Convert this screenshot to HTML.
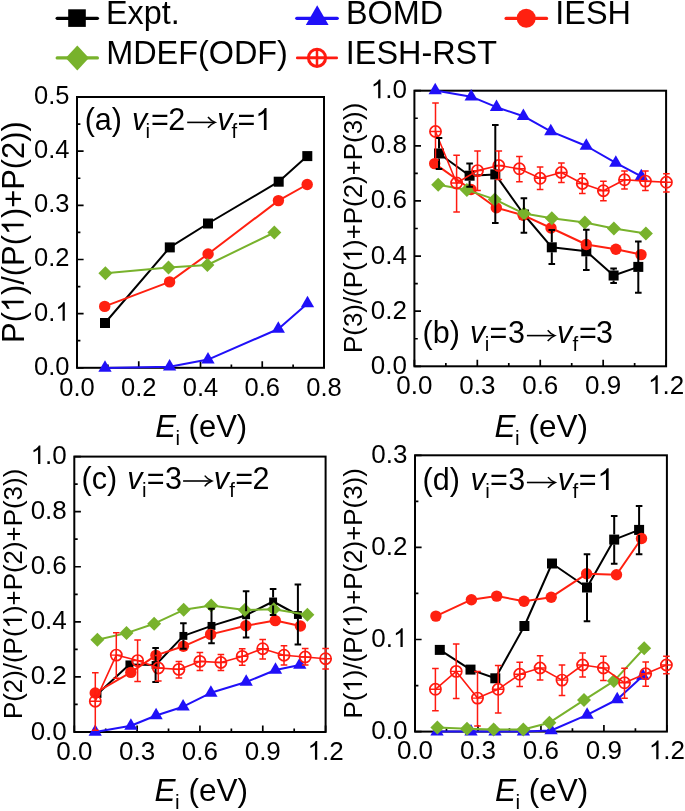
<!DOCTYPE html><html><head><meta charset="utf-8"><style>html,body{margin:0;padding:0;background:#fff;width:685px;height:811px;overflow:hidden}svg{display:block;will-change:transform}</style></head><body><svg width="685" height="811" viewBox="0 0 685 811"><rect width="685" height="811" fill="#fff"/><g font-family='"Liberation Sans", sans-serif' fill="#000"><path d="M77.00 367.80V361.20M107.88 367.80V364.40M138.75 367.80V361.20M169.62 367.80V364.40M200.50 367.80V361.20M231.38 367.80V364.40M262.25 367.80V361.20M293.12 367.80V364.40M324.00 367.80V361.20M77.00 367.80H83.60M77.00 340.72H80.40M77.00 313.64H83.60M77.00 286.56H80.40M77.00 259.48H83.60M77.00 232.40H80.40M77.00 205.32H83.60M77.00 178.24H80.40M77.00 151.16H83.60M77.00 124.08H80.40M77.00 97.00H83.60" stroke="#000" stroke-width="1.7" fill="none"/><rect x="77.00" y="97.00" width="247.00" height="270.80" fill="none" stroke="#000" stroke-width="2"/><text x="77.00" y="395.80" font-size="25.5" text-anchor="middle">0.0</text><text x="138.75" y="395.80" font-size="25.5" text-anchor="middle">0.2</text><text x="200.50" y="395.80" font-size="25.5" text-anchor="middle">0.4</text><text x="262.25" y="395.80" font-size="25.5" text-anchor="middle">0.6</text><text x="324.00" y="395.80" font-size="25.5" text-anchor="middle">0.8</text><text x="69.50" y="374.80" font-size="25.5" text-anchor="end">0.0</text><text x="34.05" y="320.64" font-size="25.5">0.</text><path d="M763 0L583 0L583 1147Q518 1085 412.5 1023Q307 961 223 930L223 1104Q374 1175 486.5 1276Q599 1377 645 1472L763 1472Z" transform="translate(55.32 320.64) scale(0.01245 -0.01245)"/><text x="69.50" y="266.48" font-size="25.5" text-anchor="end">0.2</text><text x="69.50" y="212.32" font-size="25.5" text-anchor="end">0.3</text><text x="69.50" y="158.16" font-size="25.5" text-anchor="end">0.4</text><text x="69.50" y="104.00" font-size="25.5" text-anchor="end">0.5</text><path d="M414.40 366.30V359.70M445.86 366.30V362.90M477.32 366.30V359.70M508.79 366.30V362.90M540.25 366.30V359.70M571.71 366.30V362.90M603.17 366.30V359.70M634.64 366.30V362.90M666.10 366.30V359.70M414.40 366.30H421.00M414.40 338.74H417.80M414.40 311.18H421.00M414.40 283.62H417.80M414.40 256.06H421.00M414.40 228.50H417.80M414.40 200.94H421.00M414.40 173.38H417.80M414.40 145.82H421.00M414.40 118.26H417.80M414.40 90.70H421.00" stroke="#000" stroke-width="1.7" fill="none"/><rect x="414.40" y="90.70" width="251.70" height="275.60" fill="none" stroke="#000" stroke-width="2"/><text x="414.40" y="394.00" font-size="26" text-anchor="middle">0.0</text><text x="477.32" y="394.00" font-size="26" text-anchor="middle">0.3</text><text x="540.25" y="394.00" font-size="26" text-anchor="middle">0.6</text><text x="603.17" y="394.00" font-size="26" text-anchor="middle">0.9</text><path d="M763 0L583 0L583 1147Q518 1085 412.5 1023Q307 961 223 930L223 1104Q374 1175 486.5 1276Q599 1377 645 1472L763 1472Z" transform="translate(648.03 394.00) scale(0.01270 -0.01270)"/><text x="662.49" y="394.00" font-size="26">.2</text><text x="406.90" y="373.80" font-size="26" text-anchor="end">0.0</text><text x="406.90" y="318.68" font-size="26" text-anchor="end">0.2</text><text x="406.90" y="263.56" font-size="26" text-anchor="end">0.4</text><text x="406.90" y="208.44" font-size="26" text-anchor="end">0.6</text><text x="406.90" y="153.32" font-size="26" text-anchor="end">0.8</text><path d="M763 0L583 0L583 1147Q518 1085 412.5 1023Q307 961 223 930L223 1104Q374 1175 486.5 1276Q599 1377 645 1472L763 1472Z" transform="translate(370.76 98.20) scale(0.01270 -0.01270)"/><text x="385.22" y="98.20" font-size="26">.0</text><path d="M74.30 732.00V725.40M105.71 732.00V728.60M137.12 732.00V725.40M168.54 732.00V728.60M199.95 732.00V725.40M231.36 732.00V728.60M262.78 732.00V725.40M294.19 732.00V728.60M325.60 732.00V725.40M74.30 732.00H80.90M74.30 704.46H77.70M74.30 676.92H80.90M74.30 649.38H77.70M74.30 621.84H80.90M74.30 594.30H77.70M74.30 566.76H80.90M74.30 539.22H77.70M74.30 511.68H80.90M74.30 484.14H77.70M74.30 456.60H80.90" stroke="#000" stroke-width="1.7" fill="none"/><rect x="74.30" y="456.60" width="251.30" height="275.40" fill="none" stroke="#000" stroke-width="2"/><text x="74.30" y="759.70" font-size="26" text-anchor="middle">0.0</text><text x="137.12" y="759.70" font-size="26" text-anchor="middle">0.3</text><text x="199.95" y="759.70" font-size="26" text-anchor="middle">0.6</text><text x="262.78" y="759.70" font-size="26" text-anchor="middle">0.9</text><path d="M763 0L583 0L583 1147Q518 1085 412.5 1023Q307 961 223 930L223 1104Q374 1175 486.5 1276Q599 1377 645 1472L763 1472Z" transform="translate(307.53 759.70) scale(0.01270 -0.01270)"/><text x="321.99" y="759.70" font-size="26">.2</text><text x="66.80" y="739.50" font-size="26" text-anchor="end">0.0</text><text x="66.80" y="684.42" font-size="26" text-anchor="end">0.2</text><text x="66.80" y="629.34" font-size="26" text-anchor="end">0.4</text><text x="66.80" y="574.26" font-size="26" text-anchor="end">0.6</text><text x="66.80" y="519.18" font-size="26" text-anchor="end">0.8</text><path d="M763 0L583 0L583 1147Q518 1085 412.5 1023Q307 961 223 930L223 1104Q374 1175 486.5 1276Q599 1377 645 1472L763 1472Z" transform="translate(30.66 464.10) scale(0.01270 -0.01270)"/><text x="45.12" y="464.10" font-size="26">.0</text><path d="M415.00 731.60V725.00M446.49 731.60V728.20M477.98 731.60V725.00M509.46 731.60V728.20M540.95 731.60V725.00M572.44 731.60V728.20M603.92 731.60V725.00M635.41 731.60V728.20M666.90 731.60V725.00M415.00 731.60H421.60M415.00 685.55H418.40M415.00 639.50H421.60M415.00 593.45H418.40M415.00 547.40H421.60M415.00 501.35H418.40M415.00 455.30H421.60" stroke="#000" stroke-width="1.7" fill="none"/><rect x="415.00" y="455.30" width="251.90" height="276.30" fill="none" stroke="#000" stroke-width="2"/><text x="415.00" y="759.30" font-size="26" text-anchor="middle">0.0</text><text x="477.98" y="759.30" font-size="26" text-anchor="middle">0.3</text><text x="540.95" y="759.30" font-size="26" text-anchor="middle">0.6</text><text x="603.92" y="759.30" font-size="26" text-anchor="middle">0.9</text><path d="M763 0L583 0L583 1147Q518 1085 412.5 1023Q307 961 223 930L223 1104Q374 1175 486.5 1276Q599 1377 645 1472L763 1472Z" transform="translate(648.83 759.30) scale(0.01270 -0.01270)"/><text x="663.29" y="759.30" font-size="26">.2</text><text x="407.50" y="739.10" font-size="26" text-anchor="end">0.0</text><text x="371.36" y="647.00" font-size="26">0.</text><path d="M763 0L583 0L583 1147Q518 1085 412.5 1023Q307 961 223 930L223 1104Q374 1175 486.5 1276Q599 1377 645 1472L763 1472Z" transform="translate(393.04 647.00) scale(0.01270 -0.01270)"/><text x="407.50" y="554.90" font-size="26" text-anchor="end">0.2</text><text x="407.50" y="462.80" font-size="26" text-anchor="end">0.3</text><g transform="translate(23.70 232.10) rotate(-90)"><text x="-110.81" y="0.00" font-size="30.8">P(</text><path d="M763 0L583 0L583 1147Q518 1085 412.5 1023Q307 961 223 930L223 1104Q374 1175 486.5 1276Q599 1377 645 1472L763 1472Z" transform="translate(-80.01 0.00) scale(0.01504 -0.01504)"/><text x="-62.88" y="0.00" font-size="30.8">)/(P(</text><path d="M763 0L583 0L583 1147Q518 1085 412.5 1023Q307 961 223 930L223 1104Q374 1175 486.5 1276Q599 1377 645 1472L763 1472Z" transform="translate(-3.01 0.00) scale(0.01504 -0.01504)"/><text x="14.12" y="0.00" font-size="30.8">)+P(2))</text></g><g transform="translate(362.00 227.80) rotate(-90)"><text x="-125.21" y="0.00" font-size="25.9">P(3)/(P(</text><path d="M763 0L583 0L583 1147Q518 1085 412.5 1023Q307 961 223 930L223 1104Q374 1175 486.5 1276Q599 1377 645 1472L763 1472Z" transform="translate(-34.56 0.00) scale(0.01265 -0.01265)"/><text x="-20.15" y="0.00" font-size="25.9">)+P(2)+P(3))</text></g><g transform="translate(22.00 593.90) rotate(-90)"><text x="-125.21" y="0.00" font-size="25.9">P(2)/(P(</text><path d="M763 0L583 0L583 1147Q518 1085 412.5 1023Q307 961 223 930L223 1104Q374 1175 486.5 1276Q599 1377 645 1472L763 1472Z" transform="translate(-34.56 0.00) scale(0.01265 -0.01265)"/><text x="-20.15" y="0.00" font-size="25.9">)+P(2)+P(3))</text></g><g transform="translate(362.00 593.30) rotate(-90)"><text x="-125.21" y="0.00" font-size="25.9">P(</text><path d="M763 0L583 0L583 1147Q518 1085 412.5 1023Q307 961 223 930L223 1104Q374 1175 486.5 1276Q599 1377 645 1472L763 1472Z" transform="translate(-99.31 0.00) scale(0.01265 -0.01265)"/><text x="-84.90" y="0.00" font-size="25.9">)/(P(</text><path d="M763 0L583 0L583 1147Q518 1085 412.5 1023Q307 961 223 930L223 1104Q374 1175 486.5 1276Q599 1377 645 1472L763 1472Z" transform="translate(-34.56 0.00) scale(0.01265 -0.01265)"/><text x="-20.15" y="0.00" font-size="25.9">)+P(2)+P(3))</text></g><text x="155.25" y="437.00" font-size="31.0" text-anchor="start" font-style="italic">E</text><text x="175.42" y="445.30" font-size="20.46" text-anchor="start">i</text><text x="179.97" y="437.00" font-size="31.0" text-anchor="start"> (eV)</text><text x="494.53" y="436.60" font-size="31.5" text-anchor="start" font-style="italic">E</text><text x="515.04" y="444.90" font-size="20.790000000000003" text-anchor="start">i</text><text x="519.66" y="436.60" font-size="31.5" text-anchor="start"> (eV)</text><text x="154.53" y="801.10" font-size="31.5" text-anchor="start" font-style="italic">E</text><text x="175.04" y="809.40" font-size="20.790000000000003" text-anchor="start">i</text><text x="179.66" y="801.10" font-size="31.5" text-anchor="start"> (eV)</text><text x="494.93" y="801.00" font-size="31.5" text-anchor="start" font-style="italic">E</text><text x="515.44" y="809.30" font-size="20.790000000000003" text-anchor="start">i</text><text x="520.06" y="801.00" font-size="31.5" text-anchor="start"> (eV)</text><text x="84.71" y="130.00" font-size="30.5" text-anchor="start">(a)</text><text x="131.93" y="130.00" font-size="30.5" text-anchor="start" font-style="italic">v</text><text x="145.53" y="138.20" font-size="20.5" text-anchor="start">i</text><text x="151.01" y="130.00" font-size="30.5" text-anchor="start">=</text><text x="168.37" y="130.00" font-size="30.5" text-anchor="start">2</text><path d="M187.20 122.40H214.20" stroke="#000" stroke-width="1.6" fill="none"/><path d="M208.00 117.00Q210.70 120.60 215.20 122.40Q210.70 124.20 208.00 127.80" stroke="#000" stroke-width="1.5" fill="none" stroke-linejoin="miter"/><text x="217.13" y="130.00" font-size="30.5" text-anchor="start" font-style="italic">v</text><text x="231.61" y="138.20" font-size="20.5" text-anchor="start">f</text><text x="237.61" y="130.00" font-size="30.5" text-anchor="start">=</text><path d="M763 0L583 0L583 1147Q518 1085 412.5 1023Q307 961 223 930L223 1104Q374 1175 486.5 1276Q599 1377 645 1472L763 1472Z" transform="translate(255.18 130.00) scale(0.01489 -0.01489)"/><text x="422.61" y="343.20" font-size="30.5" text-anchor="start">(b)</text><text x="469.93" y="343.20" font-size="30.5" text-anchor="start" font-style="italic">v</text><text x="484.73" y="351.40" font-size="20.5" text-anchor="start">i</text><text x="489.61" y="343.20" font-size="30.5" text-anchor="start">=</text><text x="507.94" y="343.20" font-size="30.5" text-anchor="start">3</text><path d="M526.90 335.60H553.90" stroke="#000" stroke-width="1.6" fill="none"/><path d="M547.70 330.20Q550.40 333.80 554.90 335.60Q550.40 337.40 547.70 341.00" stroke="#000" stroke-width="1.5" fill="none" stroke-linejoin="miter"/><text x="557.03" y="343.20" font-size="30.5" text-anchor="start" font-style="italic">v</text><text x="572.41" y="351.40" font-size="20.5" text-anchor="start">f</text><text x="579.11" y="343.20" font-size="30.5" text-anchor="start">=</text><text x="596.04" y="343.20" font-size="30.5" text-anchor="start">3</text><text x="81.61" y="488.60" font-size="30.5" text-anchor="start">(c)</text><text x="127.13" y="488.60" font-size="30.5" text-anchor="start" font-style="italic">v</text><text x="142.03" y="496.80" font-size="20.5" text-anchor="start">i</text><text x="146.81" y="488.60" font-size="30.5" text-anchor="start">=</text><text x="164.94" y="488.60" font-size="30.5" text-anchor="start">3</text><path d="M183.10 481.00H210.90" stroke="#000" stroke-width="1.6" fill="none"/><path d="M204.70 475.60Q207.40 479.20 211.90 481.00Q207.40 482.80 204.70 486.40" stroke="#000" stroke-width="1.5" fill="none" stroke-linejoin="miter"/><text x="213.73" y="488.60" font-size="30.5" text-anchor="start" font-style="italic">v</text><text x="229.21" y="496.80" font-size="20.5" text-anchor="start">f</text><text x="235.31" y="488.60" font-size="30.5" text-anchor="start">=</text><text x="252.47" y="488.60" font-size="30.5" text-anchor="start">2</text><text x="422.61" y="490.10" font-size="30.5" text-anchor="start">(d)</text><text x="470.53" y="490.10" font-size="30.5" text-anchor="start" font-style="italic">v</text><text x="485.23" y="498.30" font-size="20.5" text-anchor="start">i</text><text x="490.11" y="490.10" font-size="30.5" text-anchor="start">=</text><text x="508.24" y="490.10" font-size="30.5" text-anchor="start">3</text><path d="M526.90 482.50H554.20" stroke="#000" stroke-width="1.6" fill="none"/><path d="M548.00 477.10Q550.70 480.70 555.20 482.50Q550.70 484.30 548.00 487.90" stroke="#000" stroke-width="1.5" fill="none" stroke-linejoin="miter"/><text x="557.63" y="490.10" font-size="30.5" text-anchor="start" font-style="italic">v</text><text x="572.41" y="498.30" font-size="20.5" text-anchor="start">f</text><text x="578.81" y="490.10" font-size="30.5" text-anchor="start">=</text><path d="M763 0L583 0L583 1147Q518 1085 412.5 1023Q307 961 223 930L223 1104Q374 1175 486.5 1276Q599 1377 645 1472L763 1472Z" transform="translate(597.28 490.10) scale(0.01489 -0.01489)"/><path d="M57.2 18.3H97.4" stroke="#000000" stroke-width="3.3" stroke-linecap="round"/><rect x="68.20" y="9.30" width="17.60" height="17.60" fill="#000000"/><text x="106.00" y="24.40" font-size="32.4" text-anchor="start">Expt.</text><path d="M296.8 18.3H337.2" stroke="#2010f8" stroke-width="3.3" stroke-linecap="round"/><path d="M317.20 5.13L328.60 25.03L305.80 25.03Z" fill="#2010f8"/><text x="346.00" y="24.40" font-size="32.4" text-anchor="start">BOMD</text><path d="M506.1 18.4H546.5" stroke="#ff2010" stroke-width="3.3" stroke-linecap="round"/><circle cx="526.20" cy="18.20" r="9.50" fill="#ff2010"/><text x="555.30" y="24.40" font-size="32.4" text-anchor="start">IESH</text><path d="M57.2 57.9H97.4" stroke="#78b22c" stroke-width="3.3" stroke-linecap="round"/><path d="M77.30 45.40L88.90 57.90L77.30 70.40L65.70 57.90Z" fill="#78b22c"/><text x="106.20" y="63.70" font-size="32.4" text-anchor="start">MDEF(ODF)</text><path d="M297.3 57.9H336.7" stroke="#ff1a10" stroke-width="2.7" stroke-linecap="round"/><circle cx="317" cy="57.8" r="8.6" fill="none" stroke="#ff1a10" stroke-width="3"/><path d="M308.4 57.8H325.6M317 49.2V66.4" stroke="#ff1a10" stroke-width="2.5"/><text x="345.80" y="63.70" font-size="32.4" text-anchor="start">IESH-RST</text></g><path d="M105.00 323.00L169.80 247.40L208.00 223.50L278.70 181.70L307.30 156.10" fill="none" stroke="#000000" stroke-width="2.0" stroke-linejoin="round"/><rect x="100.00" y="318.00" width="10.00" height="10.00" fill="#000000"/><rect x="164.80" y="242.40" width="10.00" height="10.00" fill="#000000"/><rect x="203.00" y="218.50" width="10.00" height="10.00" fill="#000000"/><rect x="273.70" y="176.70" width="10.00" height="10.00" fill="#000000"/><rect x="302.30" y="151.10" width="10.00" height="10.00" fill="#000000"/><path d="M105.00 367.90L169.60 366.70L208.00 359.60L278.30 329.00L307.50 303.40" fill="none" stroke="#2010f8" stroke-width="2.0" stroke-linejoin="round"/><path d="M105.00 360.23L111.65 371.73L98.35 371.73Z" fill="#2010f8"/><path d="M169.60 359.03L176.25 370.53L162.95 370.53Z" fill="#2010f8"/><path d="M208.00 351.93L214.65 363.43L201.35 363.43Z" fill="#2010f8"/><path d="M278.30 321.33L284.95 332.83L271.65 332.83Z" fill="#2010f8"/><path d="M307.50 295.73L314.15 307.23L300.85 307.23Z" fill="#2010f8"/><path d="M104.70 306.40L169.60 281.90L208.10 254.00L278.40 200.60L307.20 184.50" fill="none" stroke="#ff2010" stroke-width="2.0" stroke-linejoin="round"/><circle cx="104.70" cy="306.40" r="5.70" fill="#ff2010"/><circle cx="169.60" cy="281.90" r="5.70" fill="#ff2010"/><circle cx="208.10" cy="254.00" r="5.70" fill="#ff2010"/><circle cx="278.40" cy="200.60" r="5.70" fill="#ff2010"/><circle cx="307.20" cy="184.50" r="5.70" fill="#ff2010"/><path d="M105.40 273.30L168.50 267.60L207.40 265.00L274.30 232.50" fill="none" stroke="#78b22c" stroke-width="2.0" stroke-linejoin="round"/><path d="M105.40 266.30L112.40 273.30L105.40 280.30L98.40 273.30Z" fill="#78b22c"/><path d="M168.50 260.60L175.50 267.60L168.50 274.60L161.50 267.60Z" fill="#78b22c"/><path d="M207.40 258.00L214.40 265.00L207.40 272.00L200.40 265.00Z" fill="#78b22c"/><path d="M274.30 225.50L281.30 232.50L274.30 239.50L267.30 232.50Z" fill="#78b22c"/><path d="M439.00 153.50L469.60 175.70L495.30 174.40L523.90 214.50L551.80 247.30L586.30 251.30L613.60 275.50L638.30 266.90" fill="none" stroke="#000000" stroke-width="2.0" stroke-linejoin="round"/><rect x="434.00" y="148.50" width="10.00" height="10.00" fill="#000000"/><rect x="464.60" y="170.70" width="10.00" height="10.00" fill="#000000"/><rect x="490.30" y="169.40" width="10.00" height="10.00" fill="#000000"/><rect x="518.90" y="209.50" width="10.00" height="10.00" fill="#000000"/><rect x="546.80" y="242.30" width="10.00" height="10.00" fill="#000000"/><rect x="581.30" y="246.30" width="10.00" height="10.00" fill="#000000"/><rect x="608.60" y="270.50" width="10.00" height="10.00" fill="#000000"/><rect x="633.30" y="261.90" width="10.00" height="10.00" fill="#000000"/><path d="M435.20 90.40L471.20 96.70L496.50 107.20L523.40 116.20L550.80 131.30L586.30 146.00L615.80 162.80L641.30 176.40" fill="none" stroke="#2010f8" stroke-width="2.0" stroke-linejoin="round"/><path d="M435.20 82.73L441.85 94.23L428.55 94.23Z" fill="#2010f8"/><path d="M471.20 89.03L477.85 100.53L464.55 100.53Z" fill="#2010f8"/><path d="M496.50 99.53L503.15 111.03L489.85 111.03Z" fill="#2010f8"/><path d="M523.40 108.53L530.05 120.03L516.75 120.03Z" fill="#2010f8"/><path d="M550.80 123.63L557.45 135.13L544.15 135.13Z" fill="#2010f8"/><path d="M586.30 138.33L592.95 149.83L579.65 149.83Z" fill="#2010f8"/><path d="M615.80 155.13L622.45 166.63L609.15 166.63Z" fill="#2010f8"/><path d="M641.30 168.73L647.95 180.23L634.65 180.23Z" fill="#2010f8"/><path d="M434.70 163.60L471.00 189.50L496.30 207.80L523.10 215.20L551.00 228.00L586.30 244.50L615.90 249.20L641.00 254.60" fill="none" stroke="#ff2010" stroke-width="2.0" stroke-linejoin="round"/><circle cx="434.70" cy="163.60" r="5.70" fill="#ff2010"/><circle cx="471.00" cy="189.50" r="5.70" fill="#ff2010"/><circle cx="496.30" cy="207.80" r="5.70" fill="#ff2010"/><circle cx="523.10" cy="215.20" r="5.70" fill="#ff2010"/><circle cx="551.00" cy="228.00" r="5.70" fill="#ff2010"/><circle cx="586.30" cy="244.50" r="5.70" fill="#ff2010"/><circle cx="615.90" cy="249.20" r="5.70" fill="#ff2010"/><circle cx="641.00" cy="254.60" r="5.70" fill="#ff2010"/><path d="M438.20 184.70L466.90 189.90L494.80 199.40L524.00 213.60L551.80 218.20L584.80 222.50L613.90 228.50L645.90 233.60" fill="none" stroke="#78b22c" stroke-width="2.0" stroke-linejoin="round"/><path d="M438.20 177.70L445.20 184.70L438.20 191.70L431.20 184.70Z" fill="#78b22c"/><path d="M466.90 182.90L473.90 189.90L466.90 196.90L459.90 189.90Z" fill="#78b22c"/><path d="M494.80 192.40L501.80 199.40L494.80 206.40L487.80 199.40Z" fill="#78b22c"/><path d="M524.00 206.60L531.00 213.60L524.00 220.60L517.00 213.60Z" fill="#78b22c"/><path d="M551.80 211.20L558.80 218.20L551.80 225.20L544.80 218.20Z" fill="#78b22c"/><path d="M584.80 215.50L591.80 222.50L584.80 229.50L577.80 222.50Z" fill="#78b22c"/><path d="M613.90 221.50L620.90 228.50L613.90 235.50L606.90 228.50Z" fill="#78b22c"/><path d="M645.90 226.60L652.90 233.60L645.90 240.60L638.90 233.60Z" fill="#78b22c"/><path d="M435.50 131.50L456.60 183.00L477.50 170.60L498.80 165.50L519.40 168.80L540.10 178.30L561.40 172.50L582.30 183.50L603.40 190.70L624.50 179.80L645.40 181.10L666.40 182.30" fill="none" stroke="#ff1a10" stroke-width="1.6" stroke-linejoin="round"/><circle cx="435.50" cy="131.50" r="5.60" fill="none" stroke="#ff1a10" stroke-width="1.7"/><path d="M429.90 131.50H441.10M435.50 125.90V137.10" stroke="#ff1a10" stroke-width="1.4" fill="none"/><circle cx="456.60" cy="183.00" r="5.60" fill="none" stroke="#ff1a10" stroke-width="1.7"/><path d="M451.00 183.00H462.20M456.60 177.40V188.60" stroke="#ff1a10" stroke-width="1.4" fill="none"/><circle cx="477.50" cy="170.60" r="5.60" fill="none" stroke="#ff1a10" stroke-width="1.7"/><path d="M471.90 170.60H483.10M477.50 165.00V176.20" stroke="#ff1a10" stroke-width="1.4" fill="none"/><circle cx="498.80" cy="165.50" r="5.60" fill="none" stroke="#ff1a10" stroke-width="1.7"/><path d="M493.20 165.50H504.40M498.80 159.90V171.10" stroke="#ff1a10" stroke-width="1.4" fill="none"/><circle cx="519.40" cy="168.80" r="5.60" fill="none" stroke="#ff1a10" stroke-width="1.7"/><path d="M513.80 168.80H525.00M519.40 163.20V174.40" stroke="#ff1a10" stroke-width="1.4" fill="none"/><circle cx="540.10" cy="178.30" r="5.60" fill="none" stroke="#ff1a10" stroke-width="1.7"/><path d="M534.50 178.30H545.70M540.10 172.70V183.90" stroke="#ff1a10" stroke-width="1.4" fill="none"/><circle cx="561.40" cy="172.50" r="5.60" fill="none" stroke="#ff1a10" stroke-width="1.7"/><path d="M555.80 172.50H567.00M561.40 166.90V178.10" stroke="#ff1a10" stroke-width="1.4" fill="none"/><circle cx="582.30" cy="183.50" r="5.60" fill="none" stroke="#ff1a10" stroke-width="1.7"/><path d="M576.70 183.50H587.90M582.30 177.90V189.10" stroke="#ff1a10" stroke-width="1.4" fill="none"/><circle cx="603.40" cy="190.70" r="5.60" fill="none" stroke="#ff1a10" stroke-width="1.7"/><path d="M597.80 190.70H609.00M603.40 185.10V196.30" stroke="#ff1a10" stroke-width="1.4" fill="none"/><circle cx="624.50" cy="179.80" r="5.60" fill="none" stroke="#ff1a10" stroke-width="1.7"/><path d="M618.90 179.80H630.10M624.50 174.20V185.40" stroke="#ff1a10" stroke-width="1.4" fill="none"/><circle cx="645.40" cy="181.10" r="5.60" fill="none" stroke="#ff1a10" stroke-width="1.7"/><path d="M639.80 181.10H651.00M645.40 175.50V186.70" stroke="#ff1a10" stroke-width="1.4" fill="none"/><circle cx="666.40" cy="182.30" r="5.60" fill="none" stroke="#ff1a10" stroke-width="1.7"/><path d="M660.80 182.30H672.00M666.40 176.70V187.90" stroke="#ff1a10" stroke-width="1.4" fill="none"/><path d="M439.00 148.50V137.90M435.70 137.90H442.30" stroke="#000000" stroke-width="2.0" fill="none"/><path d="M439.00 158.50V168.90M435.70 168.90H442.30" stroke="#000000" stroke-width="2.0" fill="none"/><path d="M469.60 170.70V163.50M466.30 163.50H472.90" stroke="#000000" stroke-width="2.0" fill="none"/><path d="M469.60 180.70V186.70M466.30 186.70H472.90" stroke="#000000" stroke-width="2.0" fill="none"/><path d="M495.30 169.40V125.10M492.00 125.10H498.60" stroke="#000000" stroke-width="2.0" fill="none"/><path d="M495.30 179.40V223.10M492.00 223.10H498.60" stroke="#000000" stroke-width="2.0" fill="none"/><path d="M523.90 209.50V198.20M520.60 198.20H527.20" stroke="#000000" stroke-width="2.0" fill="none"/><path d="M523.90 219.50V232.70M520.60 232.70H527.20" stroke="#000000" stroke-width="2.0" fill="none"/><path d="M551.80 242.30V230.10M548.50 230.10H555.10" stroke="#000000" stroke-width="2.0" fill="none"/><path d="M551.80 252.30V264.00M548.50 264.00H555.10" stroke="#000000" stroke-width="2.0" fill="none"/><path d="M586.30 246.30V229.80M583.00 229.80H589.60" stroke="#000000" stroke-width="2.0" fill="none"/><path d="M586.30 256.30V270.10M583.00 270.10H589.60" stroke="#000000" stroke-width="2.0" fill="none"/><path d="M613.60 270.50V268.40M610.30 268.40H616.90" stroke="#000000" stroke-width="2.0" fill="none"/><path d="M613.60 280.50V282.90M610.30 282.90H616.90" stroke="#000000" stroke-width="2.0" fill="none"/><path d="M638.30 261.90V241.50M635.00 241.50H641.60" stroke="#000000" stroke-width="2.0" fill="none"/><path d="M638.30 271.90V292.80M635.00 292.80H641.60" stroke="#000000" stroke-width="2.0" fill="none"/><path d="M435.50 131.50V102.90M432.20 102.90H438.80" stroke="#ff1a10" stroke-width="1.5" fill="none"/><path d="M435.50 131.50V160.00M432.20 160.00H438.80" stroke="#ff1a10" stroke-width="1.5" fill="none"/><path d="M456.60 183.00V155.30M453.30 155.30H459.90" stroke="#ff1a10" stroke-width="1.5" fill="none"/><path d="M456.60 183.00V212.00M453.30 212.00H459.90" stroke="#ff1a10" stroke-width="1.5" fill="none"/><path d="M477.50 170.60V151.00M474.20 151.00H480.80" stroke="#ff1a10" stroke-width="1.5" fill="none"/><path d="M477.50 170.60V190.60M474.20 190.60H480.80" stroke="#ff1a10" stroke-width="1.5" fill="none"/><path d="M498.80 165.50V151.00M495.50 151.00H502.10" stroke="#ff1a10" stroke-width="1.5" fill="none"/><path d="M498.80 165.50V179.60M495.50 179.60H502.10" stroke="#ff1a10" stroke-width="1.5" fill="none"/><path d="M519.40 168.80V156.40M516.10 156.40H522.70" stroke="#ff1a10" stroke-width="1.5" fill="none"/><path d="M519.40 168.80V181.70M516.10 181.70H522.70" stroke="#ff1a10" stroke-width="1.5" fill="none"/><path d="M540.10 178.30V167.10M536.80 167.10H543.40" stroke="#ff1a10" stroke-width="1.5" fill="none"/><path d="M540.10 178.30V189.50M536.80 189.50H543.40" stroke="#ff1a10" stroke-width="1.5" fill="none"/><path d="M561.40 172.50V163.00M558.10 163.00H564.70" stroke="#ff1a10" stroke-width="1.5" fill="none"/><path d="M561.40 172.50V182.60M558.10 182.60H564.70" stroke="#ff1a10" stroke-width="1.5" fill="none"/><path d="M582.30 183.50V173.80M579.00 173.80H585.60" stroke="#ff1a10" stroke-width="1.5" fill="none"/><path d="M582.30 183.50V193.50M579.00 193.50H585.60" stroke="#ff1a10" stroke-width="1.5" fill="none"/><path d="M603.40 190.70V181.20M600.10 181.20H606.70" stroke="#ff1a10" stroke-width="1.5" fill="none"/><path d="M603.40 190.70V200.80M600.10 200.80H606.70" stroke="#ff1a10" stroke-width="1.5" fill="none"/><path d="M624.50 179.80V171.00M621.20 171.00H627.80" stroke="#ff1a10" stroke-width="1.5" fill="none"/><path d="M624.50 179.80V189.10M621.20 189.10H627.80" stroke="#ff1a10" stroke-width="1.5" fill="none"/><path d="M645.40 181.10V171.00M642.10 171.00H648.70" stroke="#ff1a10" stroke-width="1.5" fill="none"/><path d="M645.40 181.10V190.60M642.10 190.60H648.70" stroke="#ff1a10" stroke-width="1.5" fill="none"/><path d="M666.40 182.30V173.80M663.10 173.80H669.70" stroke="#ff1a10" stroke-width="1.5" fill="none"/><path d="M666.40 182.30V192.00M663.10 192.00H669.70" stroke="#ff1a10" stroke-width="1.5" fill="none"/><path d="M97.50 694.00L129.40 664.40L155.60 665.00L183.40 635.90L211.50 625.90L246.10 615.20L273.10 601.50L297.90 615.00" fill="none" stroke="#000000" stroke-width="2.0" stroke-linejoin="round"/><rect x="93.55" y="690.05" width="7.90" height="7.90" fill="#000000"/><rect x="125.45" y="660.45" width="7.90" height="7.90" fill="#000000"/><rect x="151.65" y="661.05" width="7.90" height="7.90" fill="#000000"/><rect x="179.45" y="631.95" width="7.90" height="7.90" fill="#000000"/><rect x="207.55" y="621.95" width="7.90" height="7.90" fill="#000000"/><rect x="242.15" y="611.25" width="7.90" height="7.90" fill="#000000"/><rect x="269.15" y="597.55" width="7.90" height="7.90" fill="#000000"/><rect x="293.95" y="611.05" width="7.90" height="7.90" fill="#000000"/><path d="M95.20 732.00L130.90 725.80L156.10 715.50L183.10 706.70L210.90 692.80L246.20 682.00L275.50 670.00L299.80 664.90" fill="none" stroke="#2010f8" stroke-width="2.0" stroke-linejoin="round"/><path d="M95.20 724.33L101.85 735.83L88.55 735.83Z" fill="#2010f8"/><path d="M130.90 718.13L137.55 729.63L124.25 729.63Z" fill="#2010f8"/><path d="M156.10 707.83L162.75 719.33L149.45 719.33Z" fill="#2010f8"/><path d="M183.10 699.03L189.75 710.53L176.45 710.53Z" fill="#2010f8"/><path d="M210.90 685.13L217.55 696.63L204.25 696.63Z" fill="#2010f8"/><path d="M246.20 674.33L252.85 685.83L239.55 685.83Z" fill="#2010f8"/><path d="M275.50 662.33L282.15 673.83L268.85 673.83Z" fill="#2010f8"/><path d="M299.80 657.23L306.45 668.73L293.15 668.73Z" fill="#2010f8"/><path d="M95.20 693.00L130.80 672.40L155.90 655.40L183.40 646.30L210.60 634.40L245.80 625.70L275.30 620.60L300.40 626.00" fill="none" stroke="#ff2010" stroke-width="2.0" stroke-linejoin="round"/><circle cx="95.20" cy="693.00" r="5.70" fill="#ff2010"/><circle cx="130.80" cy="672.40" r="5.70" fill="#ff2010"/><circle cx="155.90" cy="655.40" r="5.70" fill="#ff2010"/><circle cx="183.40" cy="646.30" r="5.70" fill="#ff2010"/><circle cx="210.60" cy="634.40" r="5.70" fill="#ff2010"/><circle cx="245.80" cy="625.70" r="5.70" fill="#ff2010"/><circle cx="275.30" cy="620.60" r="5.70" fill="#ff2010"/><circle cx="300.40" cy="626.00" r="5.70" fill="#ff2010"/><path d="M97.40 639.80L126.50 633.10L154.10 623.70L183.70 609.80L211.20 605.40L244.80 609.90L273.80 609.20L307.40 614.70" fill="none" stroke="#78b22c" stroke-width="2.0" stroke-linejoin="round"/><path d="M97.40 632.80L104.40 639.80L97.40 646.80L90.40 639.80Z" fill="#78b22c"/><path d="M126.50 626.10L133.50 633.10L126.50 640.10L119.50 633.10Z" fill="#78b22c"/><path d="M154.10 616.70L161.10 623.70L154.10 630.70L147.10 623.70Z" fill="#78b22c"/><path d="M183.70 602.80L190.70 609.80L183.70 616.80L176.70 609.80Z" fill="#78b22c"/><path d="M211.20 598.40L218.20 605.40L211.20 612.40L204.20 605.40Z" fill="#78b22c"/><path d="M244.80 602.90L251.80 609.90L244.80 616.90L237.80 609.90Z" fill="#78b22c"/><path d="M273.80 602.20L280.80 609.20L273.80 616.20L266.80 609.20Z" fill="#78b22c"/><path d="M307.40 607.70L314.40 614.70L307.40 621.70L300.40 614.70Z" fill="#78b22c"/><path d="M95.30 701.20L116.30 655.10L137.60 660.60L158.30 668.00L178.90 669.40L199.90 661.40L220.90 662.50L242.20 656.40L262.70 648.70L284.00 655.20L305.20 657.00L325.60 658.70" fill="none" stroke="#ff1a10" stroke-width="1.6" stroke-linejoin="round"/><circle cx="95.30" cy="701.20" r="5.60" fill="none" stroke="#ff1a10" stroke-width="1.7"/><path d="M89.70 701.20H100.90M95.30 695.60V706.80" stroke="#ff1a10" stroke-width="1.4" fill="none"/><circle cx="116.30" cy="655.10" r="5.60" fill="none" stroke="#ff1a10" stroke-width="1.7"/><path d="M110.70 655.10H121.90M116.30 649.50V660.70" stroke="#ff1a10" stroke-width="1.4" fill="none"/><circle cx="137.60" cy="660.60" r="5.60" fill="none" stroke="#ff1a10" stroke-width="1.7"/><path d="M132.00 660.60H143.20M137.60 655.00V666.20" stroke="#ff1a10" stroke-width="1.4" fill="none"/><circle cx="158.30" cy="668.00" r="5.60" fill="none" stroke="#ff1a10" stroke-width="1.7"/><path d="M152.70 668.00H163.90M158.30 662.40V673.60" stroke="#ff1a10" stroke-width="1.4" fill="none"/><circle cx="178.90" cy="669.40" r="5.60" fill="none" stroke="#ff1a10" stroke-width="1.7"/><path d="M173.30 669.40H184.50M178.90 663.80V675.00" stroke="#ff1a10" stroke-width="1.4" fill="none"/><circle cx="199.90" cy="661.40" r="5.60" fill="none" stroke="#ff1a10" stroke-width="1.7"/><path d="M194.30 661.40H205.50M199.90 655.80V667.00" stroke="#ff1a10" stroke-width="1.4" fill="none"/><circle cx="220.90" cy="662.50" r="5.60" fill="none" stroke="#ff1a10" stroke-width="1.7"/><path d="M215.30 662.50H226.50M220.90 656.90V668.10" stroke="#ff1a10" stroke-width="1.4" fill="none"/><circle cx="242.20" cy="656.40" r="5.60" fill="none" stroke="#ff1a10" stroke-width="1.7"/><path d="M236.60 656.40H247.80M242.20 650.80V662.00" stroke="#ff1a10" stroke-width="1.4" fill="none"/><circle cx="262.70" cy="648.70" r="5.60" fill="none" stroke="#ff1a10" stroke-width="1.7"/><path d="M257.10 648.70H268.30M262.70 643.10V654.30" stroke="#ff1a10" stroke-width="1.4" fill="none"/><circle cx="284.00" cy="655.20" r="5.60" fill="none" stroke="#ff1a10" stroke-width="1.7"/><path d="M278.40 655.20H289.60M284.00 649.60V660.80" stroke="#ff1a10" stroke-width="1.4" fill="none"/><circle cx="305.20" cy="657.00" r="5.60" fill="none" stroke="#ff1a10" stroke-width="1.7"/><path d="M299.60 657.00H310.80M305.20 651.40V662.60" stroke="#ff1a10" stroke-width="1.4" fill="none"/><circle cx="325.60" cy="658.70" r="5.60" fill="none" stroke="#ff1a10" stroke-width="1.7"/><path d="M320.00 658.70H331.20M325.60 653.10V664.30" stroke="#ff1a10" stroke-width="1.4" fill="none"/><path d="M155.60 661.05V648.00M152.30 648.00H158.90" stroke="#000000" stroke-width="2.0" fill="none"/><path d="M155.60 668.95V682.00M152.30 682.00H158.90" stroke="#000000" stroke-width="2.0" fill="none"/><path d="M183.40 631.95V623.20M180.10 623.20H186.70" stroke="#000000" stroke-width="2.0" fill="none"/><path d="M183.40 639.85V648.80M180.10 648.80H186.70" stroke="#000000" stroke-width="2.0" fill="none"/><path d="M211.50 621.95V608.80M208.20 608.80H214.80" stroke="#000000" stroke-width="2.0" fill="none"/><path d="M211.50 629.85V643.30M208.20 643.30H214.80" stroke="#000000" stroke-width="2.0" fill="none"/><path d="M246.10 611.25V591.30M242.80 591.30H249.40" stroke="#000000" stroke-width="2.0" fill="none"/><path d="M246.10 619.15V637.60M242.80 637.60H249.40" stroke="#000000" stroke-width="2.0" fill="none"/><path d="M273.10 597.55V589.00M269.80 589.00H276.40" stroke="#000000" stroke-width="2.0" fill="none"/><path d="M273.10 605.45V615.00M269.80 615.00H276.40" stroke="#000000" stroke-width="2.0" fill="none"/><path d="M297.90 611.05V584.40M294.60 584.40H301.20" stroke="#000000" stroke-width="2.0" fill="none"/><path d="M297.90 618.95V644.50M294.60 644.50H301.20" stroke="#000000" stroke-width="2.0" fill="none"/><path d="M95.30 701.20V672.70M92.00 672.70H98.60" stroke="#ff1a10" stroke-width="1.5" fill="none"/><path d="M95.30 701.20V730.30M92.00 730.30H98.60" stroke="#ff1a10" stroke-width="1.5" fill="none"/><path d="M116.30 655.10V632.70M113.00 632.70H119.60" stroke="#ff1a10" stroke-width="1.5" fill="none"/><path d="M116.30 655.10V678.30M113.00 678.30H119.60" stroke="#ff1a10" stroke-width="1.5" fill="none"/><path d="M137.60 660.60V639.90M134.30 639.90H140.90" stroke="#ff1a10" stroke-width="1.5" fill="none"/><path d="M137.60 660.60V681.60M134.30 681.60H140.90" stroke="#ff1a10" stroke-width="1.5" fill="none"/><path d="M158.30 668.00V655.40M155.00 655.40H161.60" stroke="#ff1a10" stroke-width="1.5" fill="none"/><path d="M158.30 668.00V681.00M155.00 681.00H161.60" stroke="#ff1a10" stroke-width="1.5" fill="none"/><path d="M178.90 669.40V661.50M175.60 661.50H182.20" stroke="#ff1a10" stroke-width="1.5" fill="none"/><path d="M178.90 669.40V678.00M175.60 678.00H182.20" stroke="#ff1a10" stroke-width="1.5" fill="none"/><path d="M199.90 661.40V652.50M196.60 652.50H203.20" stroke="#ff1a10" stroke-width="1.5" fill="none"/><path d="M199.90 661.40V670.50M196.60 670.50H203.20" stroke="#ff1a10" stroke-width="1.5" fill="none"/><path d="M220.90 662.50V654.40M217.60 654.40H224.20" stroke="#ff1a10" stroke-width="1.5" fill="none"/><path d="M220.90 662.50V670.50M217.60 670.50H224.20" stroke="#ff1a10" stroke-width="1.5" fill="none"/><path d="M242.20 656.40V648.70M238.90 648.70H245.50" stroke="#ff1a10" stroke-width="1.5" fill="none"/><path d="M242.20 656.40V665.20M238.90 665.20H245.50" stroke="#ff1a10" stroke-width="1.5" fill="none"/><path d="M262.70 648.70V639.60M259.40 639.60H266.00" stroke="#ff1a10" stroke-width="1.5" fill="none"/><path d="M262.70 648.70V659.10M259.40 659.10H266.00" stroke="#ff1a10" stroke-width="1.5" fill="none"/><path d="M284.00 655.20V645.70M280.70 645.70H287.30" stroke="#ff1a10" stroke-width="1.5" fill="none"/><path d="M284.00 655.20V665.00M280.70 665.00H287.30" stroke="#ff1a10" stroke-width="1.5" fill="none"/><path d="M305.20 657.00V648.60M301.90 648.60H308.50" stroke="#ff1a10" stroke-width="1.5" fill="none"/><path d="M305.20 657.00V665.00M301.90 665.00H308.50" stroke="#ff1a10" stroke-width="1.5" fill="none"/><path d="M325.60 658.70V648.60M322.30 648.60H328.90" stroke="#ff1a10" stroke-width="1.5" fill="none"/><path d="M325.60 658.70V669.00M322.30 669.00H328.90" stroke="#ff1a10" stroke-width="1.5" fill="none"/><path d="M439.80 649.90L470.50 669.60L495.30 678.30L524.40 626.00L552.00 563.50L587.00 587.50L614.20 539.60L639.10 529.90" fill="none" stroke="#000000" stroke-width="2.0" stroke-linejoin="round"/><rect x="434.80" y="644.90" width="10.00" height="10.00" fill="#000000"/><rect x="465.50" y="664.60" width="10.00" height="10.00" fill="#000000"/><rect x="490.30" y="673.30" width="10.00" height="10.00" fill="#000000"/><rect x="519.40" y="621.00" width="10.00" height="10.00" fill="#000000"/><rect x="547.00" y="558.50" width="10.00" height="10.00" fill="#000000"/><rect x="582.00" y="582.50" width="10.00" height="10.00" fill="#000000"/><rect x="609.20" y="534.60" width="10.00" height="10.00" fill="#000000"/><rect x="634.10" y="524.90" width="10.00" height="10.00" fill="#000000"/><path d="M437.00 731.60L471.00 731.60L495.00 731.60L523.40 731.60L551.10 730.50L587.10 714.90L617.20 699.50L642.80 676.00" fill="none" stroke="#2010f8" stroke-width="2.0" stroke-linejoin="round"/><path d="M437.00 723.93L443.65 735.43L430.35 735.43Z" fill="#2010f8"/><path d="M471.00 723.93L477.65 735.43L464.35 735.43Z" fill="#2010f8"/><path d="M495.00 723.93L501.65 735.43L488.35 735.43Z" fill="#2010f8"/><path d="M523.40 723.93L530.05 735.43L516.75 735.43Z" fill="#2010f8"/><path d="M551.10 722.83L557.75 734.33L544.45 734.33Z" fill="#2010f8"/><path d="M587.10 707.23L593.75 718.73L580.45 718.73Z" fill="#2010f8"/><path d="M617.20 691.83L623.85 703.33L610.55 703.33Z" fill="#2010f8"/><path d="M642.80 668.33L649.45 679.83L636.15 679.83Z" fill="#2010f8"/><path d="M435.90 616.10L471.40 599.70L496.70 596.10L524.00 601.20L551.20 597.20L586.60 573.80L616.50 574.70L641.50 538.50" fill="none" stroke="#ff2010" stroke-width="2.0" stroke-linejoin="round"/><circle cx="435.90" cy="616.10" r="5.70" fill="#ff2010"/><circle cx="471.40" cy="599.70" r="5.70" fill="#ff2010"/><circle cx="496.70" cy="596.10" r="5.70" fill="#ff2010"/><circle cx="524.00" cy="601.20" r="5.70" fill="#ff2010"/><circle cx="551.20" cy="597.20" r="5.70" fill="#ff2010"/><circle cx="586.60" cy="573.80" r="5.70" fill="#ff2010"/><circle cx="616.50" cy="574.70" r="5.70" fill="#ff2010"/><circle cx="641.50" cy="538.50" r="5.70" fill="#ff2010"/><path d="M437.40 727.60L467.00 728.80L493.60 729.40L523.30 729.50L549.40 722.70L584.00 700.10L613.90 681.10L644.20 648.20" fill="none" stroke="#78b22c" stroke-width="2.0" stroke-linejoin="round"/><path d="M437.40 720.60L444.40 727.60L437.40 734.60L430.40 727.60Z" fill="#78b22c"/><path d="M467.00 721.80L474.00 728.80L467.00 735.80L460.00 728.80Z" fill="#78b22c"/><path d="M493.60 722.40L500.60 729.40L493.60 736.40L486.60 729.40Z" fill="#78b22c"/><path d="M523.30 722.50L530.30 729.50L523.30 736.50L516.30 729.50Z" fill="#78b22c"/><path d="M549.40 715.70L556.40 722.70L549.40 729.70L542.40 722.70Z" fill="#78b22c"/><path d="M584.00 693.10L591.00 700.10L584.00 707.10L577.00 700.10Z" fill="#78b22c"/><path d="M613.90 674.10L620.90 681.10L613.90 688.10L606.90 681.10Z" fill="#78b22c"/><path d="M644.20 641.20L651.20 648.20L644.20 655.20L637.20 648.20Z" fill="#78b22c"/><path d="M435.40 689.30L456.20 671.40L477.50 698.10L498.20 689.30L519.70 674.30L540.10 668.00L562.00 680.10L582.60 665.00L603.40 668.00L624.50 682.80L645.70 673.80L666.40 665.00" fill="none" stroke="#ff1a10" stroke-width="1.6" stroke-linejoin="round"/><circle cx="435.40" cy="689.30" r="5.60" fill="none" stroke="#ff1a10" stroke-width="1.7"/><path d="M429.80 689.30H441.00M435.40 683.70V694.90" stroke="#ff1a10" stroke-width="1.4" fill="none"/><circle cx="456.20" cy="671.40" r="5.60" fill="none" stroke="#ff1a10" stroke-width="1.7"/><path d="M450.60 671.40H461.80M456.20 665.80V677.00" stroke="#ff1a10" stroke-width="1.4" fill="none"/><circle cx="477.50" cy="698.10" r="5.60" fill="none" stroke="#ff1a10" stroke-width="1.7"/><path d="M471.90 698.10H483.10M477.50 692.50V703.70" stroke="#ff1a10" stroke-width="1.4" fill="none"/><circle cx="498.20" cy="689.30" r="5.60" fill="none" stroke="#ff1a10" stroke-width="1.7"/><path d="M492.60 689.30H503.80M498.20 683.70V694.90" stroke="#ff1a10" stroke-width="1.4" fill="none"/><circle cx="519.70" cy="674.30" r="5.60" fill="none" stroke="#ff1a10" stroke-width="1.7"/><path d="M514.10 674.30H525.30M519.70 668.70V679.90" stroke="#ff1a10" stroke-width="1.4" fill="none"/><circle cx="540.10" cy="668.00" r="5.60" fill="none" stroke="#ff1a10" stroke-width="1.7"/><path d="M534.50 668.00H545.70M540.10 662.40V673.60" stroke="#ff1a10" stroke-width="1.4" fill="none"/><circle cx="562.00" cy="680.10" r="5.60" fill="none" stroke="#ff1a10" stroke-width="1.7"/><path d="M556.40 680.10H567.60M562.00 674.50V685.70" stroke="#ff1a10" stroke-width="1.4" fill="none"/><circle cx="582.60" cy="665.00" r="5.60" fill="none" stroke="#ff1a10" stroke-width="1.7"/><path d="M577.00 665.00H588.20M582.60 659.40V670.60" stroke="#ff1a10" stroke-width="1.4" fill="none"/><circle cx="603.40" cy="668.00" r="5.60" fill="none" stroke="#ff1a10" stroke-width="1.7"/><path d="M597.80 668.00H609.00M603.40 662.40V673.60" stroke="#ff1a10" stroke-width="1.4" fill="none"/><circle cx="624.50" cy="682.80" r="5.60" fill="none" stroke="#ff1a10" stroke-width="1.7"/><path d="M618.90 682.80H630.10M624.50 677.20V688.40" stroke="#ff1a10" stroke-width="1.4" fill="none"/><circle cx="645.70" cy="673.80" r="5.60" fill="none" stroke="#ff1a10" stroke-width="1.7"/><path d="M640.10 673.80H651.30M645.70 668.20V679.40" stroke="#ff1a10" stroke-width="1.4" fill="none"/><circle cx="666.40" cy="665.00" r="5.60" fill="none" stroke="#ff1a10" stroke-width="1.7"/><path d="M660.80 665.00H672.00M666.40 659.40V670.60" stroke="#ff1a10" stroke-width="1.4" fill="none"/><path d="M587.00 582.50V554.30M583.70 554.30H590.30" stroke="#000000" stroke-width="2.0" fill="none"/><path d="M587.00 592.50V621.30M583.70 621.30H590.30" stroke="#000000" stroke-width="2.0" fill="none"/><path d="M614.20 534.60V516.10M610.90 516.10H617.50" stroke="#000000" stroke-width="2.0" fill="none"/><path d="M614.20 544.60V563.80M610.90 563.80H617.50" stroke="#000000" stroke-width="2.0" fill="none"/><path d="M639.10 524.90V506.10M635.80 506.10H642.40" stroke="#000000" stroke-width="2.0" fill="none"/><path d="M639.10 534.90V554.20M635.80 554.20H642.40" stroke="#000000" stroke-width="2.0" fill="none"/><path d="M435.40 689.30V668.50M432.10 668.50H438.70" stroke="#ff1a10" stroke-width="1.5" fill="none"/><path d="M435.40 689.30V710.80M432.10 710.80H438.70" stroke="#ff1a10" stroke-width="1.5" fill="none"/><path d="M456.20 671.40V644.10M452.90 644.10H459.50" stroke="#ff1a10" stroke-width="1.5" fill="none"/><path d="M456.20 671.40V698.40M452.90 698.40H459.50" stroke="#ff1a10" stroke-width="1.5" fill="none"/><path d="M477.50 698.10V671.40M474.20 671.40H480.80" stroke="#ff1a10" stroke-width="1.5" fill="none"/><path d="M477.50 698.10V726.10M474.20 726.10H480.80" stroke="#ff1a10" stroke-width="1.5" fill="none"/><path d="M498.20 689.30V665.50M494.90 665.50H501.50" stroke="#ff1a10" stroke-width="1.5" fill="none"/><path d="M498.20 689.30V713.00M494.90 713.00H501.50" stroke="#ff1a10" stroke-width="1.5" fill="none"/><path d="M519.70 674.30V662.20M516.40 662.20H523.00" stroke="#ff1a10" stroke-width="1.5" fill="none"/><path d="M519.70 674.30V686.40M516.40 686.40H523.00" stroke="#ff1a10" stroke-width="1.5" fill="none"/><path d="M540.10 668.00V655.80M536.80 655.80H543.40" stroke="#ff1a10" stroke-width="1.5" fill="none"/><path d="M540.10 668.00V680.10M536.80 680.10H543.40" stroke="#ff1a10" stroke-width="1.5" fill="none"/><path d="M562.00 680.10V665.10M558.70 665.10H565.30" stroke="#ff1a10" stroke-width="1.5" fill="none"/><path d="M562.00 680.10V695.50M558.70 695.50H565.30" stroke="#ff1a10" stroke-width="1.5" fill="none"/><path d="M582.60 665.00V653.10M579.30 653.10H585.90" stroke="#ff1a10" stroke-width="1.5" fill="none"/><path d="M582.60 665.00V677.00M579.30 677.00H585.90" stroke="#ff1a10" stroke-width="1.5" fill="none"/><path d="M603.40 668.00V656.30M600.10 656.30H606.70" stroke="#ff1a10" stroke-width="1.5" fill="none"/><path d="M603.40 668.00V680.40M600.10 680.40H606.70" stroke="#ff1a10" stroke-width="1.5" fill="none"/><path d="M624.50 682.80V668.20M621.20 668.20H627.80" stroke="#ff1a10" stroke-width="1.5" fill="none"/><path d="M624.50 682.80V698.30M621.20 698.30H627.80" stroke="#ff1a10" stroke-width="1.5" fill="none"/><path d="M645.70 673.80V662.10M642.40 662.10H649.00" stroke="#ff1a10" stroke-width="1.5" fill="none"/><path d="M645.70 673.80V686.20M642.40 686.20H649.00" stroke="#ff1a10" stroke-width="1.5" fill="none"/><path d="M666.40 665.00V656.30M663.10 656.30H669.70" stroke="#ff1a10" stroke-width="1.5" fill="none"/><path d="M666.40 665.00V673.80M663.10 673.80H669.70" stroke="#ff1a10" stroke-width="1.5" fill="none"/></svg></body></html>
